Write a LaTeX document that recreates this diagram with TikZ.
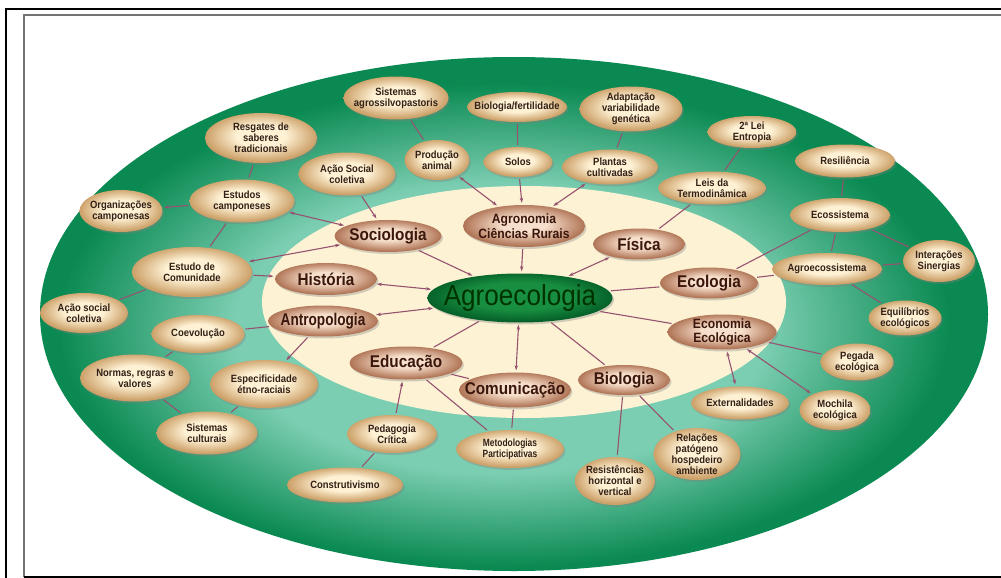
\documentclass[tikz,border=0pt]{standalone}
\usepackage{fontspec}
\setmainfont{Liberation Sans}
\newfontfamily\labelfont{Liberation Sans}[FakeStretch=0.9]
\newfontfamily\tightfont{Liberation Sans}[FakeStretch=0.8]
\usetikzlibrary{shapes,arrows.meta,shadows}

\definecolor{fielddark}{RGB}{10,138,82}
\definecolor{fieldpale}{RGB}{124,206,178}
\definecolor{creamfill}{RGB}{253,243,212}
\definecolor{hubin}{RGB}{24,142,64}
\definecolor{hubout}{RGB}{6,98,42}
\definecolor{areain}{RGB}{247,224,203}
\definecolor{areaout}{RGB}{176,116,86}
\definecolor{areatext}{RGB}{58,22,12}
\definecolor{topicin}{RGB}{254,241,212}
\definecolor{topicout}{RGB}{204,160,104}
\definecolor{topictext}{RGB}{50,32,22}
\definecolor{linkcol}{RGB}{150,82,112}

\pgfdeclareradialshading{fieldglow}{\pgfpoint{-1bp}{-2bp}}{color(0bp)=(fieldpale); color(14bp)=(fieldpale); color(23.5bp)=(fielddark); color(50bp)=(fielddark)}
\pgfdeclareradialshading{hubball}{\pgfpoint{0bp}{3bp}}{color(0bp)=(hubin); color(14bp)=(hubin); color(25bp)=(hubout); color(50bp)=(hubout)}
\pgfdeclareradialshading{areaball}{\pgfpoint{0bp}{2.5bp}}{color(0bp)=(areain); color(9bp)=(areain); color(25bp)=(areaout); color(50bp)=(areaout)}
\pgfdeclareradialshading{topicball}{\pgfpoint{0bp}{3bp}}{color(0bp)=(topicin); color(11bp)=(topicin); color(25bp)=(topicout); color(50bp)=(topicout)}

\begin{document}
\begin{tikzpicture}[x=1pt, y=-1pt,
    >={Stealth[length=5pt,width=3.4pt]},
    bubble/.style={ellipse, inner xsep=-30pt, inner ysep=-25pt, align=center,
                   drop shadow={shadow xshift=1.5pt, shadow yshift=-2pt, opacity=.35}},
    dims/.style 2 args={minimum width=#1, minimum height=#2},
    hub node/.style={bubble, shading=hubball, text=black!80!green,
                     font=\labelfont\fontsize{29}{30}\selectfont},
    area node/.style={bubble, shading=areaball, text=areatext,
                      font=\labelfont\bfseries\fontsize{17}{18}\selectfont},
    area two/.style={font=\labelfont\bfseries\fontsize{13.5}{14.5}\selectfont},
    topic node/.style={bubble, shading=topicball, text=topictext,
                       font=\labelfont\bfseries\fontsize{10.5}{11}\selectfont},
    narrow/.style={font=\tightfont\bfseries\fontsize{10.5}{11}\selectfont},
    link/.style={draw=linkcol, line width=1.1pt, shorten <=2pt, shorten >=2pt}
  ]
  \useasboundingbox (0,0) rectangle (1001,578);
  \fill[white] (0,0) rectangle (1001,578);

  % frames
  \draw[line width=2pt] (6,578) -- (6,9) -- (1001,9);
  \draw[line width=1.5pt, black!55] (24,577) -- (24,15) -- (1001,15);
  \draw[line width=1.5pt] (24,577) -- (1001,577);

  % field and inner zone
  \shade[shading=fieldglow] (514,314) ellipse [x radius=474pt, y radius=257pt];
  \fill[creamfill] (524,302) ellipse [x radius=262pt, y radius=116pt];

  % centre
  \node[hub node, dims={185}{49}] (agro) at (520,298) {Agroecologia};

  % disciplines
  \node[area node, dims={107}{32}] (soc) at (388,236) {Sociologia};
  \node[area node, area two, dims={122}{42}] (agron) at (524,226) {Agronomia\\Ciências Rurais};
  \node[area node, dims={92}{31}] (fis) at (639,244) {Física};
  \node[area node, dims={98}{31}] (ecol) at (709,283) {Ecologia};
  \node[area node, area two, dims={109}{35}] (econ) at (722,332) {Economia\\Ecológica};
  \node[area node, dims={92}{30}] (bio) at (624,380) {Biologia};
  \node[area node, dims={112}{35}] (com) at (515,390) {Comunicação};
  \node[area node, dims={113}{33}] (edu) at (406,363) {Educação};
  \node[area node, dims={110}{31}, font=\tightfont\bfseries\fontsize{17}{18}\selectfont] (antro) at (323,321) {Antropologia};
  \node[area node, dims={102}{32}] (hist) at (326,279) {História};

  % topics
  \node[topic node, dims={105}{43}] (sisagro) at (396,98) {Sistemas\\agrossilvopastoris};
  \node[topic node, dims={100}{30}] (biofert) at (517,107) {Biologia/fertilidade};
  \node[topic node, dims={103}{45}] (adapt) at (631,109) {Adaptação\\variabilidade\\genética};
  \node[topic node, dims={65}{40}] (prod) at (437,160) {Produção\\animal};
  \node[topic node, dims={69}{30}] (solos) at (518,162) {Solos};
  \node[topic node, dims={96}{35}] (plantas) at (610,167) {Plantas\\cultivadas};
  \node[topic node, dims={97}{43}] (acaosoc) at (347,174) {Ação Social\\coletiva};
  \node[topic node, dims={112}{50}] (resg) at (261,138) {Resgates de\\saberes\\tradicionais};
  \node[topic node, dims={105}{43}] (estcamp) at (242,201) {Estudos\\camponeses};
  \node[topic node, dims={83}{42}] (orgcamp) at (121,211) {Organizações\\camponesas};
  \node[topic node, dims={120}{50}] (estcom) at (192,272) {Estudo de\\Comunidade};
  \node[topic node, dims={88}{40}] (acaocol) at (84,313) {Ação social\\coletiva};
  \node[topic node, dims={93}{38}] (coev) at (198,334) {Coevolução};
  \node[topic node, dims={110}{47}] (normas) at (135,378) {Normas, regras e\\valores};
  \node[topic node, dims={108}{48}] (espec) at (264,384) {Especificidade\\étno-raciais};
  \node[topic node, dims={101}{43}] (sistcult) at (207,433) {Sistemas\\culturais};
  \node[topic node, dims={90}{38}] (pedag) at (392,434) {Pedagogia\\Crítica};
  \node[topic node, dims={116}{35}] (constr) at (345,485) {Construtivismo};
  \node[topic node, narrow, dims={108}{38}] (metod) at (510,449) {Metodologias\\Participativas};
  \node[topic node, dims={80}{48}] (resist) at (615,481) {Resistências\\horizontal e\\vertical};
  \node[topic node, dims={87}{52}] (relac) at (697,454) {Relações\\patógeno\\hospedeiro\\ambiente};
  \node[topic node, dims={98}{33}] (extern) at (740,403) {Externalidades};
  \node[topic node, dims={71}{40}] (mochila) at (835,410) {Mochila\\ecológica};
  \node[topic node, dims={73}{37}] (pegada) at (857,362) {Pegada\\ecológica};
  \node[topic node, dims={73}{35}] (equil) at (905,318) {Equilíbrios\\ecológicos};
  \node[topic node, dims={108}{33}] (leis) at (712,188) {Leis da\\Termodinâmica};
  \node[topic node, dims={89}{32}] (entropia) at (752,132) {2ª Lei\\Entropia};
  \node[topic node, dims={100}{33}] (resil) at (845,161) {Resiliência};
  \node[topic node, dims={100}{34}] (ecossis) at (840,215) {Ecossistema};
  \node[topic node, dims={72}{42}] (interac) at (939,261) {Interações\\Sinergias};
  \node[topic node, dims={110}{32}] (agroecos) at (827,269) {Agroecossistema};

  % links to the centre
  \path[link]
    (agro) edge[<->] (hist)
    (agro) edge[<->] (antro)
    (agro) edge[<-] (soc)
    (agro) edge[<-] (agron)
    (agro) edge[<->] (fis)
    (agro) edge (ecol)
    (agro) edge (econ)
    (agro) edge (bio)
    (agro) edge[<->] (com)
    (agro) edge (edu);

  % outer links
  \path[link]
    (soc) edge[<->] (estcamp)
    (soc) edge[<->] (estcom)
    (soc) edge[<-] (acaosoc)
    (agron) edge[<->] (prod)
    (agron) edge[<-] (solos)
    (agron) edge[<->] (plantas)
    (prod) edge (sisagro)
    (solos) edge (biofert)
    (plantas) edge (adapt)
    (fis) edge (leis)
    (leis) edge (entropia)
    (ecol) edge (ecossis)
    (ecol) edge (agroecos)
    (ecossis) edge (resil)
    (ecossis) edge (agroecos)
    (ecossis) edge (interac)
    (agroecos) edge (interac)
    (agroecos) edge (equil)
    (econ) edge[<->] (extern)
    (econ) edge[<->] (mochila)
    (econ) edge (pegada)
    (bio) edge (resist)
    (bio) edge (relac)
    (com) edge (metod)
    (edu) edge (com)
    (edu) edge (metod)
    (edu) edge[<-] (pedag)
    (pedag) edge (constr)
    (antro) edge (coev)
    (antro) edge[->] (espec)
    (coev) edge (normas)
    (normas) edge (sistcult)
    (espec) edge (sistcult)
    (hist) edge[<-] (estcom)
    (estcom) edge (acaocol)
    (estcom) edge (estcamp)
    (estcamp) edge[->] (orgcamp)
    (estcamp) edge (resg);
\end{tikzpicture}
\end{document}
